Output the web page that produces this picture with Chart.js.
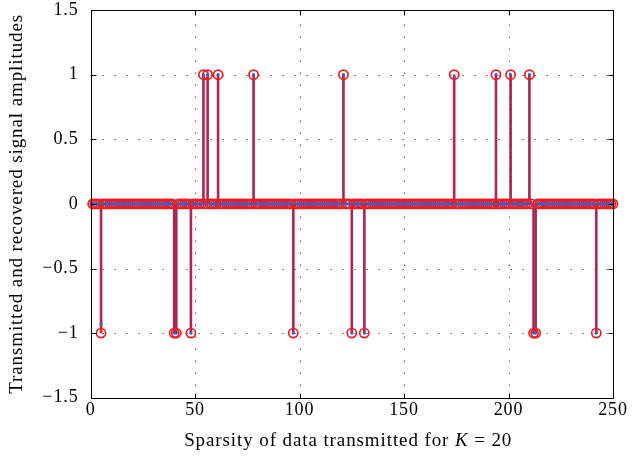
<!DOCTYPE html>
<html><head><meta charset="utf-8">
<script src="https://cdn.jsdelivr.net/npm/chart.js@4"></script>
<style>html,body{margin:0;padding:0;background:#fff;} #wrap{width:632px;height:459px;position:relative}</style>
</head><body><div id="wrap"><canvas id="c" width="632" height="459"></canvas></div>
<script>
// ---- data ----
const sampleCount = 250;
const spikeIndex     = [5, 40, 41, 48, 54, 56, 61, 78, 97, 121, 125, 131, 174, 194, 201, 210, 212, 213, 242];
const transmittedAmp = [-1, -1, -1, -1, 1, 1, 1, 1, -1, 1, -1, -1, 1, 1, 1, 1, -1, -1, -1];
const recoveredAmp   = [-0.93, -1, -1, -1, 1, 1, 1, 1, -1, 1, -1, -1, 0.98, 1, 1, 1, -1, -1, -1];
const xTicks = [0, 50, 100, 150, 200, 250];
const yTicks = [-1.5, -1, -0.5, 0, 0.5, 1, 1.5];
const yTitle = 'Transmitted and recovered signal amplitudes';
const xTitleParts = [['Sparsity of data transmitted for ', false], ['K', true], [' = 20', false]];

// ---- build full signals ----
const sampleIdx = Array.from({length: sampleCount}, (_, i) => i + 1);
const fullSignal = amps => sampleIdx.map(i => { const k = spikeIndex.indexOf(i); return {x: i, y: k < 0 ? 0 : amps[k]}; });
const spikes = amps => spikeIndex.map((i, k) => ({x: i, y: amps[k]}));

const SERIF = '"Liberation Serif", "DejaVu Serif", serif';
const SPACING = '0.9px';

const deco = {
  id: 'deco',
  beforeLayout(chart) { chart.ctx.letterSpacing = SPACING; },
  beforeDraw(chart) { chart.ctx.letterSpacing = SPACING; },
  beforeDatasetsDraw(chart) {
    const {ctx, chartArea: a, scales: {x, y}} = chart;
    ctx.save();
    ctx.strokeStyle = '#111'; ctx.lineWidth = 1; ctx.setLineDash([1, 11]);
    xTicks.forEach(v => {
      if (v <= x.min || v >= x.max) return;
      const px = Math.round(x.getPixelForValue(v)) + 0.5;
      ctx.beginPath(); ctx.moveTo(px, a.bottom); ctx.lineTo(px, a.top); ctx.stroke();
    });
    yTicks.forEach(v => {
      if (v <= y.min || v >= y.max) return;
      const py = Math.round(y.getPixelForValue(v)) + 0.5;
      ctx.beginPath(); ctx.moveTo(a.left, py); ctx.lineTo(a.right, py); ctx.stroke();
    });
    ctx.restore();
  },
  afterDatasetsDraw(chart) {
    const {ctx, chartArea: a, scales: {x, y}} = chart;
    ctx.save();
    ctx.strokeStyle = '#000'; ctx.lineWidth = 1;
    const L = Math.round(a.left) + 0.5, R = Math.round(a.right) + 0.5, T = Math.round(a.top) + 0.5, B = Math.round(a.bottom) + 0.5;
    ctx.strokeRect(L, T, R - L, B - T);
    const tl = 5;
    ctx.beginPath();
    xTicks.forEach(v => {
      const px = Math.round(x.getPixelForValue(v)) + 0.5;
      ctx.moveTo(px, B); ctx.lineTo(px, B - tl);
      ctx.moveTo(px, T); ctx.lineTo(px, T + tl);
    });
    yTicks.forEach(v => {
      const py = Math.round(y.getPixelForValue(v)) + 0.5;
      ctx.moveTo(L, py); ctx.lineTo(L + tl, py);
      ctx.moveTo(R, py); ctx.lineTo(R - tl, py);
    });
    ctx.stroke();
    ctx.restore();
  },
  afterDraw(chart) {
    const {ctx, chartArea: a} = chart;
    ctx.save();
    ctx.letterSpacing = SPACING;
    ctx.fillStyle = '#000'; ctx.textBaseline = 'alphabetic';
    const fontFor = it => (it ? 'italic ' : '') + '19px ' + SERIF;
    let total = 0;
    xTitleParts.forEach(([t, it]) => { ctx.font = fontFor(it); total += ctx.measureText(t).width; });
    let cx = (a.left + a.right) / 2 - 3.6 - total / 2;
    xTitleParts.forEach(([t, it]) => { ctx.font = fontFor(it); ctx.fillText(t, cx, 446); cx += ctx.measureText(t).width; });
    ctx.restore();
  }
};

new Chart(document.getElementById('c'), {
  type: 'scatter',
  data: {
    datasets: [
      { type: 'bar', label: 'transmitted stems', data: spikes(transmittedAmp), backgroundColor: '#e8202a', barThickness: 2, grouped: false, order: 4, clip: false },
      { type: 'bar', label: 'recovered stems', data: spikes(recoveredAmp), backgroundColor: 'rgba(70,60,170,0.55)', barThickness: 1, grouped: false, order: 3, clip: false },
      { label: 'transmitted', data: fullSignal(transmittedAmp), pointStyle: 'circle', pointRadius: 4.6, borderColor: '#f01c24', borderWidth: 1.7, backgroundColor: 'rgba(0,0,0,0)', order: 2, clip: false },
      { label: 'recovered', data: fullSignal(recoveredAmp), pointStyle: 'circle', pointRadius: 1.6, borderWidth: 0, backgroundColor: '#3b5cc4', order: 1, clip: false }
    ]
  },
  options: {
    responsive: false, animation: false, devicePixelRatio: 1,
    layout: { padding: { left: 0, right: 19, top: 0, bottom: 0 } },
    plugins: { legend: { display: false }, tooltip: { enabled: false } },
    scales: {
      x: {
        type: 'linear', min: 0, max: 250, offset: false,
        afterBuildTicks: s => { s.ticks = xTicks.map(v => ({value: v})); },
        afterFit: s => { s.height = 61.3; },
        grid: { display: false, drawTicks: false },
        border: { display: false },
        ticks: { color: '#000', font: { family: SERIF, size: 18 }, padding: 2, maxRotation: 0, autoSkip: false }
      },
      y: {
        type: 'linear', min: -1.5, max: 1.5,
        afterBuildTicks: s => { s.ticks = yTicks.map(v => ({value: v})); },
        afterFit: s => { s.width = 90.6; s.paddingTop = 10.1; s.paddingBottom = 0; },
        grid: { display: false, drawTicks: false },
        border: { display: false },
        ticks: { color: '#000', font: { family: SERIF, size: 18, lineHeight: 1.1 }, padding: 12, autoSkip: false,
                 callback: v => String(v).replace('-', '\u2212') },
        title: { display: true, text: yTitle, color: '#000', font: { family: SERIF, size: 19 }, padding: { top: 6, bottom: 0 } }
      }
    }
  },
  plugins: [deco]
});
</script>
</body></html>
